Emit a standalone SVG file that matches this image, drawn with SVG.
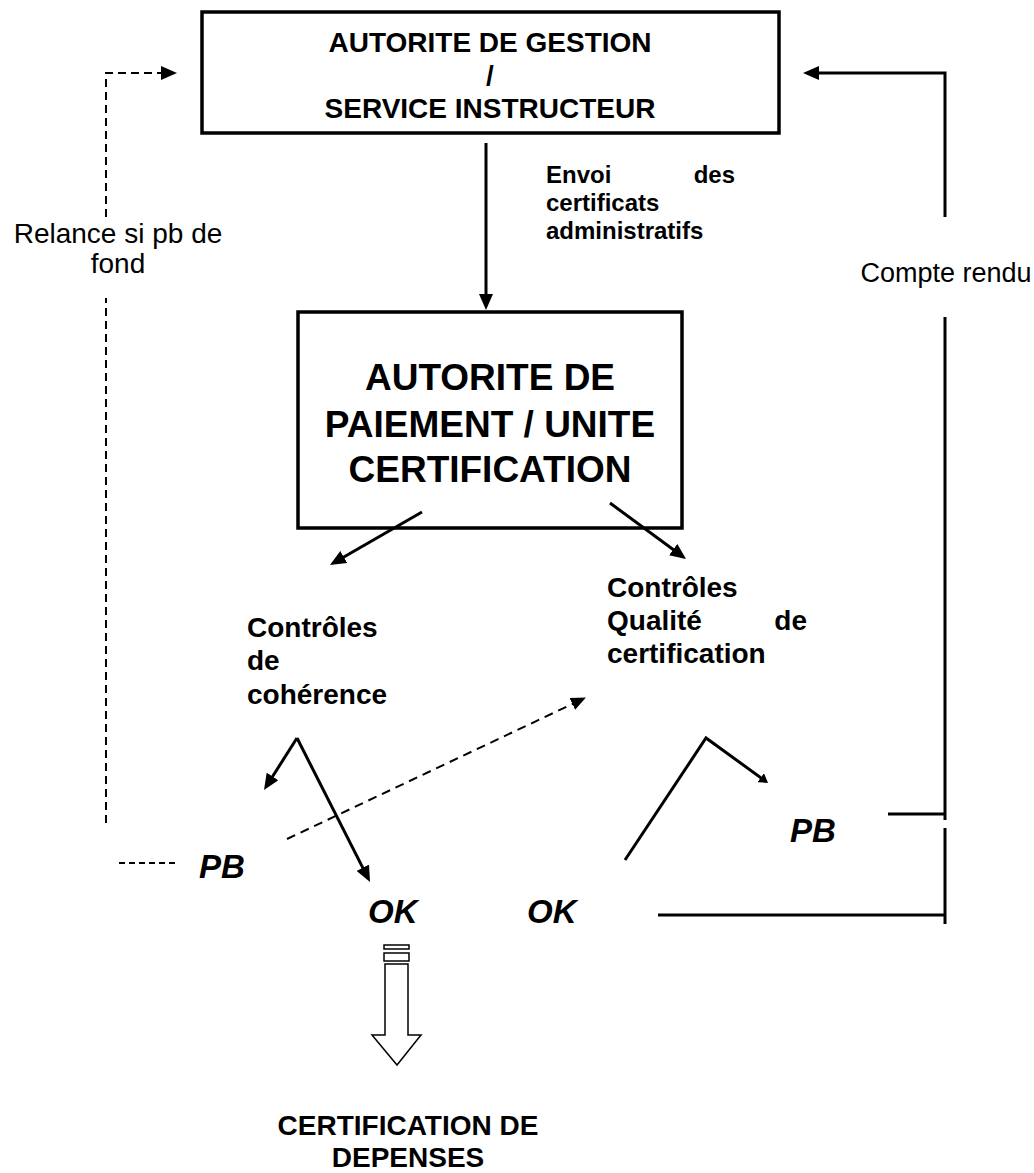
<svg xmlns="http://www.w3.org/2000/svg" width="1034" height="1173" viewBox="0 0 1034 1173">
<style>
text{font-family:"Liberation Sans",Arial,sans-serif;fill:#000}
.b{font-weight:bold}
.bi{font-weight:bold;font-style:italic;font-size:33px}
.box{fill:#fff;stroke:#000;stroke-width:3.5}
.ln{fill:none;stroke:#000;stroke-width:3}
.dsh{fill:none;stroke:#000;stroke-width:2;stroke-dasharray:8,5}
</style>
<defs>
<marker id="ah" viewBox="0 0 16 14" refX="8" refY="7" markerWidth="16" markerHeight="14" markerUnits="userSpaceOnUse" orient="auto"><path d="M0,0 L16,7 L0,14 z" fill="#000"/></marker>
<marker id="ahd" viewBox="0 0 15 13" refX="7" refY="6.5" markerWidth="15" markerHeight="13" markerUnits="userSpaceOnUse" orient="auto"><path d="M0,0 L15,6.5 L0,13 z" fill="#000"/></marker>
<marker id="ahs" viewBox="0 0 9 11" refX="4" refY="5.5" markerWidth="9" markerHeight="11" markerUnits="userSpaceOnUse" orient="auto"><path d="M0,0 L9,5.5 L0,11 z" fill="#000"/></marker>
</defs>

<g id="node-gestion">
<rect class="box" x="202" y="12" width="577" height="121"/>
<text class="b" font-size="28" text-anchor="middle" x="490" y="52">AUTORITE DE GESTION</text>
<text class="b" font-size="28" text-anchor="middle" x="490" y="85">/</text>
<text class="b" font-size="28" text-anchor="middle" x="490" y="118">SERVICE INSTRUCTEUR</text>
</g>

<g id="node-paiement">
<rect class="box" x="298" y="312" width="384" height="216"/>
<text class="b" font-size="37" text-anchor="middle" x="490" y="390">AUTORITE DE</text>
<text class="b" font-size="37" text-anchor="middle" x="490" y="437">PAIEMENT / UNITE</text>
<text class="b" font-size="37" text-anchor="middle" x="490" y="482">CERTIFICATION</text>
</g>

<g id="node-coherence">
<text class="b" font-size="28" x="247" y="637">Contrôles</text>
<text class="b" font-size="28" x="247" y="670">de</text>
<text class="b" font-size="28" x="247" y="704">cohérence</text>
</g>

<g id="node-qualite">
<text class="b" font-size="28" x="607" y="597">Contrôles</text>
<text class="b" font-size="28" x="607" y="630">Qualité</text>
<text class="b" font-size="28" x="807" y="630" text-anchor="end">de</text>
<text class="b" font-size="28" x="607" y="663">certification</text>
</g>

<g id="node-pb-left"><text class="bi" x="199" y="878">PB</text></g>
<g id="node-ok-left"><text class="bi" x="368" y="923">OK</text></g>
<g id="node-ok-right"><text class="bi" x="527" y="923">OK</text></g>
<g id="node-pb-right"><text class="bi" x="790" y="842">PB</text></g>

<g id="node-certification">
<text class="b" font-size="28" text-anchor="middle" x="408" y="1135">CERTIFICATION DE</text>
<text class="b" font-size="28" text-anchor="middle" x="408" y="1167">DEPENSES</text>
</g>

<g id="connectors">
<line class="ln" x1="486" y1="143" x2="486" y2="302" marker-end="url(#ah)"/>
<text class="b" font-size="24" x="546" y="183">Envoi</text>
<text class="b" font-size="24" x="735" y="183" text-anchor="end">des</text>
<text class="b" font-size="24" x="546" y="211">certificats</text>
<text class="b" font-size="24" x="546" y="239">administratifs</text>
<line class="ln" x1="422" y1="512" x2="336.9" y2="561" marker-end="url(#ah)"/>
<line class="ln" x1="610" y1="503" x2="679.6" y2="554.3" marker-end="url(#ah)"/>
<line class="ln" x1="297" y1="738" x2="268.3" y2="783.2" marker-end="url(#ah)"/>
<line class="ln" x1="297" y1="738" x2="366.4" y2="874.9" marker-end="url(#ah)"/>
<polyline class="ln" points="625,860 706,738 764,780" marker-end="url(#ahs)"/>
<line class="dsh" x1="287" y1="839" x2="578.7" y2="701" marker-end="url(#ahd)" style="stroke-dasharray:9,6"/>
<line class="dsh" x1="106" y1="823" x2="106" y2="298"/>
<polyline class="dsh" points="106,217 106,73 169,73" marker-end="url(#ah)"/>
<line class="dsh" x1="119" y1="863" x2="178" y2="863" style="stroke-dasharray:6,4"/>
<text font-size="28" text-anchor="middle" x="118" y="243">Relance si pb de</text>
<text font-size="28" text-anchor="middle" x="118" y="273">fond</text>
<polyline class="ln" points="945,217 945,73 811,73" marker-end="url(#ah)"/>
<line class="ln" x1="945" y1="317" x2="945" y2="820"/>
<line class="ln" x1="945" y1="828" x2="945" y2="924"/>
<line class="ln" x1="888" y1="814" x2="945" y2="814"/>
<line class="ln" x1="658" y1="915" x2="945" y2="915"/>
<text font-size="27" text-anchor="middle" x="946" y="282">Compte rendu</text>
<rect x="384" y="945" width="25" height="4" fill="#fff" stroke="#000" stroke-width="1.5"/>
<rect x="384" y="953" width="25" height="8" fill="#fff" stroke="#000" stroke-width="1.5"/>
<polygon points="385,964 408,964 408,1035 421,1035 397,1065 372,1035 385,1035" fill="#fff" stroke="#000" stroke-width="1.5"/>
</g>
</svg>
